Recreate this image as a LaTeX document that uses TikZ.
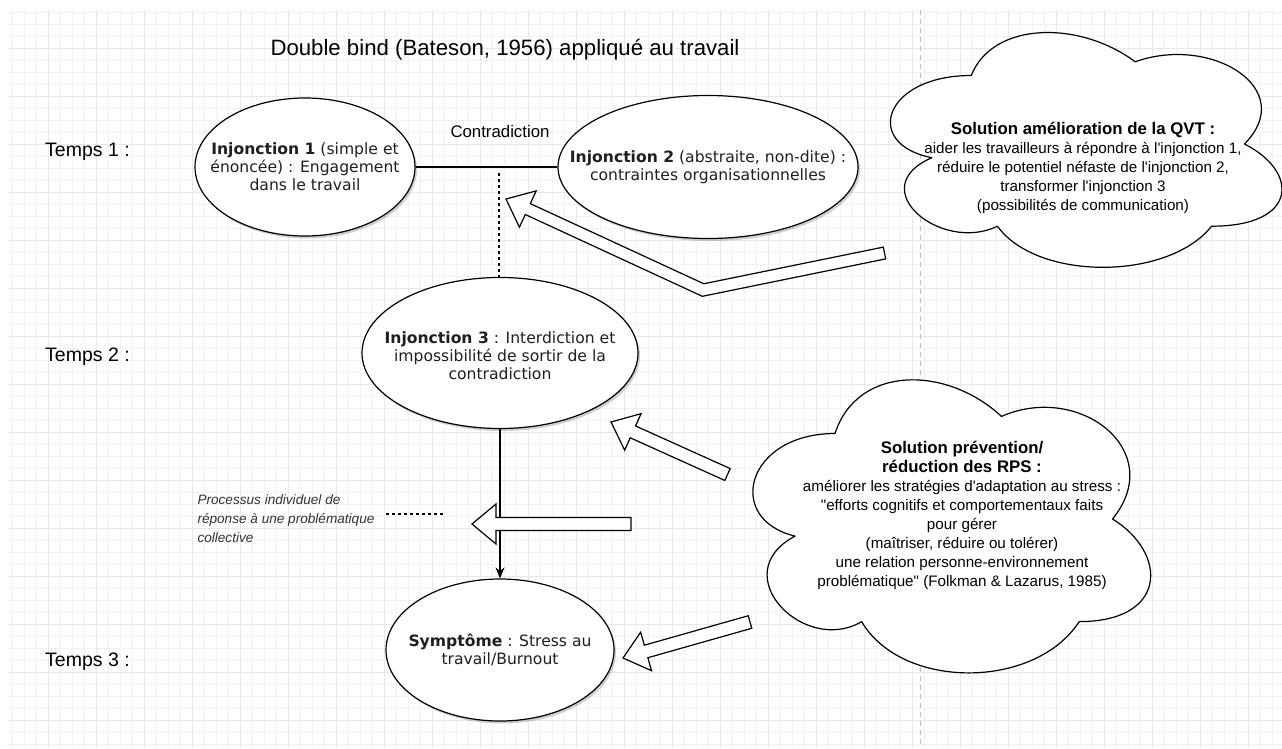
\documentclass[tikz,border=0pt]{standalone}
\usepackage{fontspec}
\setmainfont{Liberation Sans}
\newfontfamily\ellipsefont{DejaVu Sans}
\usepackage{tikz}
\usetikzlibrary{arrows.meta}
\usetikzlibrary{calc}
\usetikzlibrary{shapes.geometric, shadows}

\newcommand{\sq}{\textquotesingle}
\newcommand{\dq}{\textquotedbl}
\newcommand{\cloudhead}{\fontsize{16.8}{19}\selectfont\bfseries}
\newcommand{\hollowarrow}[3]{%
  \coordinate (#3base) at ($(#2)!24pt!(#1)$);
  \draw[blockarrow] ($(#1)!6.5pt!-90:(#2)$) -- ($(#3base)!6.5pt!90:(#1)$)
    -- ($(#3base)!20pt!90:(#1)$) -- (#2) -- ($(#3base)!20pt!-90:(#1)$)
    -- ($(#3base)!6.5pt!-90:(#1)$) -- ($(#1)!6.5pt!90:(#2)$) -- cycle;}
\newcommand{\drawcloud}[4]{%
  \draw[cloudline] (#1+0.25*#3,#2+0.25*#4)
    .. controls (#1+0.05*#3,#2+0.25*#4) and (#1,#2+0.5*#4) .. (#1+0.16*#3,#2+0.55*#4)
    .. controls (#1,#2+0.66*#4) and (#1+0.18*#3,#2+0.9*#4) .. (#1+0.31*#3,#2+0.8*#4)
    .. controls (#1+0.4*#3,#2+#4) and (#1+0.7*#3,#2+#4) .. (#1+0.8*#3,#2+0.8*#4)
    .. controls (#1+#3,#2+0.8*#4) and (#1+#3,#2+0.6*#4) .. (#1+0.875*#3,#2+0.5*#4)
    .. controls (#1+#3,#2+0.3*#4) and (#1+0.8*#3,#2+0.1*#4) .. (#1+0.625*#3,#2+0.2*#4)
    .. controls (#1+0.5*#3,#2+0.05*#4) and (#1+0.3*#3,#2+0.05*#4) .. cycle;}

\tikzset{
  injonction/.style={ellipse, draw, fill=white, line width=1.2pt, inner sep=0pt,
    drop shadow={shadow xshift=2pt, shadow yshift=-2.5pt, opacity=0.3, fill=black!60}},
  injtext/.style={align=center, text=black!88, font=\ellipsefont\fontsize{15.6}{18}\selectfont},
  cloudline/.style={draw, fill=white, line width=1.2pt, line join=round},
  cloudtext/.style={align=center, font=\fontsize{15.2}{19}\selectfont},
  blockarrow/.style={draw, fill=white, line width=1.2pt, line join=miter},
  flow/.style={line width=1.2pt, -{Stealth[length=11pt,width=9pt]}},
  link/.style={line width=1.2pt},
  linkdash/.style={line width=1.2pt, dash pattern=on 3pt off 3pt},
  tempslabel/.style={anchor=west, inner sep=0pt, font=\fontsize{19.5}{22}\selectfont},
  gridminor/.style={draw=black!5, line width=0.8pt},
  gridmajor/.style={draw=black!9, line width=0.8pt},
  pagebreak/.style={draw=black!25, dash pattern=on 5pt off 4pt, line width=1pt}
}

\begin{document}
\begin{tikzpicture}[x=1pt,y=-1pt]
    \newcommand{\cloudqvtx}{862}
    \newcommand{\cloudqvty}{7}
    \newcommand{\cloudqvtw}{437}
    \newcommand{\cloudqvth}{274}
    \newcommand{\cloudrpsx}{724}
    \newcommand{\cloudrpsy}{348}
    \newcommand{\cloudrpsw}{444}
    \newcommand{\cloudrpsh}{342}
    \fill[white] (0,0) rectangle (1282,748);
    \useasboundingbox (0,0) rectangle (1282,748);
    \draw[gridminor] (8,748) grid[step=12pt] (1282,10);
    \draw[gridmajor] (8,748) grid[step=48pt] (1282,10);
    \draw[pagebreak] (920,10) -- (920,748);

    \node[font=\fontsize{22.2}{25}\selectfont] (title) at (505,50) {Double bind (Bateson, 1956) appliqué au travail};
    \node[tempslabel] (tempsa) at (45,152) {Temps 1 :};
    \node[tempslabel] (tempsb) at (45,357) {Temps 2 :};
    \node[tempslabel] (tempsc) at (45,662) {Temps 3 :};

    \node[injonction, minimum width=220pt, minimum height=138pt,
      label={[injtext]center:{\textbf{Injonction 1} (simple et\\énoncée) : Engagement\\dans le travail}}] (inja) at (305,167) {};
    \node[injonction, minimum width=300pt, minimum height=143pt,
      label={[injtext]center:{\textbf{Injonction 2} (abstraite, non-dite) :\\contraintes organisationnelles}}] (injb) at (708,167) {};
    \node[injonction, minimum width=276pt, minimum height=151pt,
      label={[injtext, yshift=-3pt]center:{\textbf{Injonction 3} : Interdiction et\\impossibilité de sortir de la\\contradiction}}] (injc) at (500,353) {};
    \node[injonction, minimum width=228pt, minimum height=142pt,
      label={[injtext]center:{\textbf{Symptôme} : Stress au\\travail/Burnout}}] (symptome) at (500,650) {};

    \draw[link] (inja.east) -- (injb.west);
    \node[font=\fontsize{16.8}{19}\selectfont] (contra) at (500,131) {Contradiction};
    \coordinate (contramid) at (499,173);
    \draw[linkdash] (contramid) -- (contramid |- injc.north);
    \draw[flow] (injc.south) -- (symptome.north);

    \node[anchor=west, align=left, text=black!80, font=\itshape\fontsize{13.6}{19}\selectfont] (processus) at (194,519) {Processus individuel de\\réponse à une problématique\\collective};
    \coordinate (procleft) at (386,514);
    \coordinate (procright) at (445,514);
    \draw[linkdash] (procleft) -- (procright);

    \drawcloud{\cloudqvtx}{\cloudqvty}{\cloudqvtw}{\cloudqvth}
    \drawcloud{\cloudrpsx}{\cloudrpsy}{\cloudrpsw}{\cloudrpsh}
    \node[cloudtext] (qvt) at (1083,168) {{\cloudhead Solution amélioration de la QVT :}\\aider les travailleurs à répondre à l\sq injonction 1,\\réduire le potentiel néfaste de l\sq injonction 2,\\transformer l\sq injonction 3\\(possibilités de communication)};
    \node[cloudtext] (rps) at (962,515) {{\cloudhead Solution prévention/}\\{\cloudhead réduction des RPS :}\\améliorer les stratégies d\sq adaptation au stress :\\\dq efforts cognitifs et comportementaux faits\\pour gérer\\(maîtriser, réduire ou tolérer)\\une relation personne-environnement\\problématique\dq{} (Folkman \& Lazarus, 1985)};

    \coordinate (qvttail) at (884.5,253);
    \coordinate (qvtbend) at (703,290);
    \coordinate (qvttip) at (506,199);
    \coordinate (qvtbase) at ($(qvttip)!24pt!(qvtbend)$);
    \coordinate (qa1) at ($(qvttail)!6pt!-90:(qvtbend)$);
    \coordinate (qa2) at ($(qvtbend)!6pt!90:(qvttail)$);
    \coordinate (qa3) at ($(qvtbend)!6pt!-90:(qvtbase)$);
    \coordinate (qa4) at ($(qvtbase)!6pt!90:(qvtbend)$);
    \coordinate (qb1) at ($(qvttail)!6pt!90:(qvtbend)$);
    \coordinate (qb2) at ($(qvtbend)!6pt!-90:(qvttail)$);
    \coordinate (qb3) at ($(qvtbend)!6pt!90:(qvtbase)$);
    \coordinate (qb4) at ($(qvtbase)!6pt!-90:(qvtbend)$);
    \draw[blockarrow] (qa1) -- (intersection of qa1--qa2 and qa3--qa4) -- (qa4)
      -- ($(qvtbase)!20pt!90:(qvtbend)$) -- (qvttip) -- ($(qvtbase)!20pt!-90:(qvtbend)$)
      -- (qb4) -- (intersection of qb1--qb2 and qb3--qb4) -- (qb1) -- cycle;

    \coordinate (rpsatail) at (727.5,474.5);
    \coordinate (rpsatip) at (611,422);
    \hollowarrow{rpsatail}{rpsatip}{rpsa}
    \coordinate (rpsbtail) at (631,524);
    \coordinate (rpsbtip) at (472,524);
    \hollowarrow{rpsbtail}{rpsbtip}{rpsb}
    \coordinate (rpsctail) at (750,622);
    \coordinate (rpsctip) at (623,658);
    \hollowarrow{rpsctail}{rpsctip}{rpsc}
\end{tikzpicture}
\end{document}
